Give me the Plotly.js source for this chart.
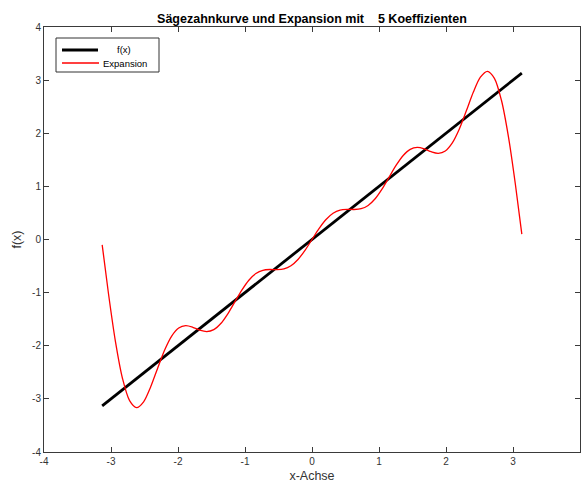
<!DOCTYPE html>
<html>
<head>
<meta charset="utf-8">
<script src="https://cdn.plot.ly/plotly-3.0.1.min.js"></script>
<style>html,body{margin:0;padding:0;background:#fff;}#chart{width:582px;height:490px;}</style>
</head>
<body>
<div id="chart"></div>
<script>
// Sawtooth f(x) = x
const sawX = [-3.1316, 3.1316];
const sawY = [-3.1316, 3.1316];

// Fourier expansion (5 coefficients)
const expX = [-3.1316,-3.0369,-2.9322,-2.8274,-2.7227,-2.6180,-2.5133,-2.4086,-2.3038,-2.1991,-2.0944,
  -1.9897,-1.8850,-1.7802,-1.6755,-1.5708,-1.4661,-1.3614,-1.2566,-1.1519,-1.0472,
  -0.9425,-0.8378,-0.7330,-0.6283,-0.5236,-0.4189,-0.3142,-0.2094,-0.1047,0,
  0.1047,0.2094,0.3142,0.4189,0.5236,0.6283,0.7330,0.8378,0.9425,1.0472,
  1.1519,1.2566,1.3614,1.4661,1.5708,1.6755,1.7802,1.8850,1.9897,2.0944,
  2.1991,2.3038,2.4086,2.5133,2.6180,2.7227,2.8274,2.9322,3.0369,3.1316];
const expY = [-0.100,-1.026,-1.932,-2.621,-3.034,-3.166,-3.055,-2.776,-2.422,-2.081,-1.819,
  -1.667,-1.623,-1.652,-1.706,-1.733,-1.697,-1.582,-1.398,-1.175,-0.953,
  -0.767,-0.641,-0.579,-0.565,-0.568,-0.554,-0.494,-0.376,-0.204,0,
  0.204,0.376,0.494,0.554,0.568,0.565,0.579,0.641,0.767,0.953,
  1.175,1.398,1.582,1.697,1.733,1.706,1.652,1.623,1.667,1.819,
  2.081,2.422,2.776,3.055,3.166,3.034,2.621,1.932,1.026,0.100];

const xTicks = [-4,-3,-2,-1,0,1,2,3,4];
const yTicks = [-4,-3,-2,-1,0,1,2,3,4];
const seriesNames = ['f(x)', 'Expansion'];
const seriesColors = ['#000000', '#ff0000'];

const FONT = 'Liberation Sans, Arial, sans-serif';
const axisCommon = {
  showline: true, linecolor: '#3a3a3a', linewidth: 1, mirror: 'allticks',
  ticks: 'inside', ticklen: 5, tickcolor: '#3a3a3a', tickwidth: 1,
  showgrid: false, zeroline: false,
  tickfont: {family: FONT, size: 10, color: '#333'}
};

const data = [
  {x: sawX, y: sawY, type: 'scatter', mode: 'lines', name: seriesNames[0],
   line: {color: seriesColors[0], width: 2.8}},
  {x: expX, y: expY, type: 'scatter', mode: 'lines', name: seriesNames[1],
   line: {color: seriesColors[1], width: 1.3, shape: 'spline', smoothing: 0.8}}
];

// Legend box drawn MATLAB-style (compact rows)
const L = 44, PW = 536, B = 452, PH = 425;
const px = v => (v - L) / PW;
const py = v => (B - v) / PH;
const shapes = [
  {type: 'rect', xref: 'paper', yref: 'paper', x0: px(56), x1: px(159), y0: py(72), y1: py(38),
   line: {color: '#333', width: 1}, fillcolor: '#ffffff', layer: 'above'},
  {type: 'line', xref: 'paper', yref: 'paper', x0: px(62), x1: px(98), y0: py(50), y1: py(50),
   line: {color: seriesColors[0], width: 2.8}, layer: 'above'},
  {type: 'line', xref: 'paper', yref: 'paper', x0: px(62), x1: px(99), y0: py(63), y1: py(63),
   line: {color: seriesColors[1], width: 1.3}, layer: 'above'}
];
const annotations = [
  {xref: 'paper', yref: 'paper', x: px(124), y: py(50), xanchor: 'center', yanchor: 'middle',
   text: seriesNames[0], showarrow: false, font: {family: FONT, size: 9.5, color: '#000'}},
  {xref: 'paper', yref: 'paper', x: px(101), y: py(63), xanchor: 'left', yanchor: 'middle',
   text: seriesNames[1], showarrow: false, font: {family: FONT, size: 9.5, color: '#000'}}
];

const layout = {
  width: 582, height: 490,
  margin: {l: 44, r: 2, t: 27, b: 38},
  paper_bgcolor: '#ffffff', plot_bgcolor: '#ffffff',
  title: {text: 'Sägezahnkurve und Expansion mit\u00a0\u00a0\u00a0\u00a05 Koeffizienten',
          font: {family: FONT, size: 12.5, color: '#000', weight: 'bold'},
          x: 0.536, xanchor: 'center', y: 0.963, yanchor: 'middle'},
  xaxis: Object.assign({}, axisCommon, {range: [-4, 4], tickvals: xTicks, ticktext: xTicks.map(String),
          title: {text: 'x-Achse', standoff: 5, font: {family: FONT, size: 12.5, color: '#333'}}}),
  yaxis: Object.assign({}, axisCommon, {range: [-4, 4], tickvals: yTicks, ticktext: yTicks.map(String),
          title: {text: 'f(x)', standoff: 7, font: {family: FONT, size: 12.5, color: '#333'}}}),
  showlegend: false,
  shapes: shapes,
  annotations: annotations
};

Plotly.newPlot('chart', data, layout, {displayModeBar: false, staticPlot: true});
</script>
</body>
</html>
